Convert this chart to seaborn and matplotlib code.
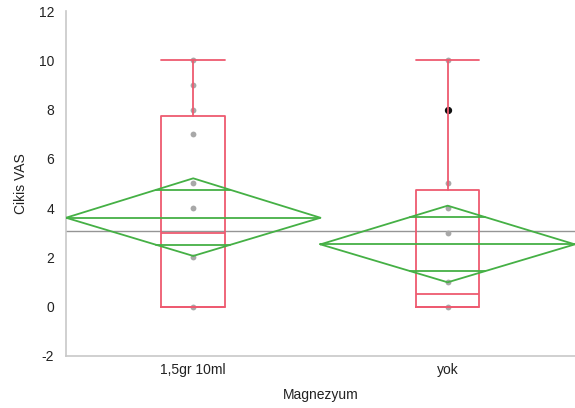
import numpy as np
import pandas as pd
import matplotlib
matplotlib.use("Agg")
import matplotlib.pyplot as plt
import seaborn as sns

# groups and observed values (points drawn at the group centre)
groups = ["1,5gr 10ml", "yok"]
points_g1 = [10, 9, 8, 7, 5, 4, 2, 0]
points_g2 = [10, 5, 4, 3, 1, 0]
highlight_g2 = [8]

# box plot summary
q1 = [0.0, 0.0]
medians = [3.0, 0.5]
q3 = [7.75, 4.75]
whisk_lo = [0.0, 0.0]
whisk_hi = [10.0, 10.0]

# means diamonds (mean and 95% CI) and grand mean
means = [3.61, 2.53]
ci_lo = [2.06, 0.99]
ci_hi = [5.21, 4.10]
grand_mean = 3.07

red = "#ee5a70"
green = "#45b045"

sns.set_style("white")
plt.rcParams["font.family"] = ["Liberation Sans", "DejaVu Sans"]
plt.rcParams["axes.unicode_minus"] = False

fig = plt.figure(figsize=(5.75, 4.08), dpi=100)
ax = fig.add_axes([0.1148, 0.1275, 0.885, 0.8455])

# grand mean line
ax.axhline(grand_mean, color="#959595", lw=1.0, zorder=1)

# data points
df = pd.DataFrame({
    "Magnezyum": [groups[0]] * len(points_g1) + [groups[1]] * len(points_g2),
    "VAS": points_g1 + points_g2,
})
sns.stripplot(data=df, x="Magnezyum", y="VAS", order=groups, jitter=False,
              color="#a8a8a8", size=4.2, linewidth=0, ax=ax, zorder=2)
ax.scatter([1] * len(highlight_g2), highlight_g2, color="#111111", s=18, zorder=3)

# box plots
stats = []
for i in range(len(groups)):
    stats.append({"q1": q1[i], "med": medians[i], "q3": q3[i],
                  "whislo": whisk_lo[i], "whishi": whisk_hi[i], "fliers": []})
line_kw = dict(color=red, lw=1.3)
ax.bxp(stats, positions=range(len(groups)), widths=0.25, capwidths=0.25,
       showfliers=False, boxprops=line_kw, whiskerprops=line_kw,
       capprops=line_kw, medianprops=line_kw, manage_ticks=False, zorder=4)

# means diamonds with overlap marks
for i in range(len(groups)):
    m, lo, hi = means[i], ci_lo[i], ci_hi[i]
    ax.plot([i - 0.5, i, i + 0.5, i, i - 0.5], [m, hi, m, lo, m],
            color=green, lw=1.3, zorder=5)
    ax.plot([i - 0.5, i + 0.5], [m, m], color=green, lw=1.3, zorder=5)
    for off in [(hi - m), (lo - m)]:
        mark = m + off / np.sqrt(2)
        half = 0.5 * (1 - 1 / np.sqrt(2))
        ax.plot([i - half, i + half], [mark, mark], color=green, lw=1.3, zorder=5)

ax.set_xlim(-0.5, 1.5)
ax.set_ylim(-2, 12)
ax.set_yticks(np.arange(-2, 13, 2))
ax.set_xticks(range(len(groups)))
ax.set_xticklabels(groups)
ax.set_xticks([0.5], minor=True)

for side in ["top", "right"]:
    ax.spines[side].set_visible(False)
for side in ["left", "bottom"]:
    ax.spines[side].set_color("#c8c8c8")
    ax.spines[side].set_linewidth(1.2)

ax.tick_params(axis="y", length=5, color="#c8c8c8", labelsize=10, labelcolor="#222222")
ax.tick_params(axis="x", which="major", length=0, labelsize=10, pad=5, labelcolor="#222222")
ax.tick_params(axis="x", which="minor", direction="in", length=4, color="#c8c8c8")
ax.set_xlabel("Magnezyum", fontsize=10, labelpad=8, color="#222222")
ax.set_ylabel("Cikis VAS", fontsize=10, labelpad=8, color="#222222")

fig.savefig("out.png", dpi=100)
